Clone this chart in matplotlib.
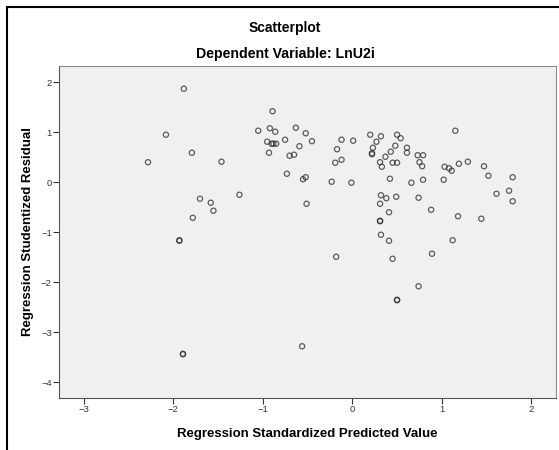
import matplotlib.pyplot as plt
from matplotlib.patches import Rectangle

plt.rcParams['font.family'] = ['Liberation Sans', 'DejaVu Sans']

# Standardized predicted values (x) and studentized residuals (y)
pred = [-1.88, -0.89, -2.08, -1.05, -0.92, -0.86, -0.63, -0.52, -1.79, -2.28,
        -1.46, -0.95, -0.90, -0.88, -0.85, -0.75, -0.59, -0.93, -0.70, -0.65,
        -0.73, -0.55, -0.52, -1.26, -1.70, -1.58, -1.55, -1.78, -1.93, -1.93,
        -0.51, -0.45, -0.12, 0.01, -0.17, -0.19, -0.12, -0.23, -0.01, -0.18,
        0.20, 0.32, 0.27, 0.23, 0.22, 0.22, 0.50, 0.54, 0.48, 0.43,
        0.37, 0.31, 0.33, 0.45, 0.50, 0.61, 0.61, 0.42, 0.66, 0.79,
        0.73, 0.79, 0.75, 0.78, 1.15, 1.03, 1.08, 1.11, 1.19, 1.29,
        1.02, 1.47, 1.52, 1.79, 1.75, 1.79, 1.61, 0.32, 0.38, 0.49,
        0.31, 0.74, 0.41, 0.31, 0.31, 0.88, 1.18, 1.44, 0.32, 0.41,
        1.12, 0.45, 0.89, 0.74, 0.50, 0.50, -1.89, -1.89, -0.56]
resid = [1.87, 1.42, 0.95, 1.03, 1.08, 1.01, 1.09, 0.98, 0.59, 0.40,
         0.41, 0.81, 0.77, 0.77, 0.77, 0.85, 0.72, 0.59, 0.53, 0.55,
         0.17, 0.06, 0.10, -0.25, -0.33, -0.41, -0.57, -0.71, -1.16, -1.17,
         -0.43, 0.82, 0.85, 0.83, 0.66, 0.39, 0.45, 0.01, -0.01, -1.49,
         0.95, 0.92, 0.81, 0.69, 0.58, 0.56, 0.95, 0.88, 0.73, 0.61,
         0.51, 0.40, 0.31, 0.39, 0.39, 0.69, 0.59, 0.07, -0.01, 0.05,
         0.54, 0.54, 0.40, 0.32, 1.03, 0.31, 0.28, 0.23, 0.37, 0.41,
         0.05, 0.32, 0.13, 0.10, -0.17, -0.38, -0.23, -0.26, -0.32, -0.29,
         -0.43, -0.31, -0.60, -0.77, -0.78, -0.55, -0.68, -0.73, -1.05, -1.17,
         -1.16, -1.53, -1.43, -2.08, -2.35, -2.36, -3.43, -3.44, -3.28]

x_ticks = [-3, -2, -1, 0, 1, 2]
y_ticks = [-4, -3, -2, -1, 0, 1, 2]

fig = plt.figure(figsize=(5.59, 4.5), dpi=100)
ax = fig.add_axes([0.105, 0.116, 0.8895, 0.738])
ax.set_facecolor('#f0f0f0')

ax.scatter(pred, resid, s=14, facecolors='none', edgecolors='#2a2a2a',
           linewidths=0.9, alpha=0.75)

ax.set_xlim(-3.277, 2.273)
ax.set_ylim(-4.31, 2.33)
ax.set_xticks(x_ticks)
ax.set_yticks(y_ticks)
ax.tick_params(labelsize=6.8, length=4, width=0.8, color='#333333',
               labelcolor='#333333', pad=1)

for side in ['top', 'right']:
    ax.spines[side].set_color('#8a8a8a')
for side in ['left', 'bottom']:
    ax.spines[side].set_color('#555555')

ax.set_xlabel('Regression Standardized Predicted Value', fontsize=9.5,
              fontweight='bold', labelpad=10)
ax.set_ylabel('Regression Studentized Residual', fontsize=9.5,
              fontweight='bold', labelpad=5)

fig.text(285 / 559, 1 - 28 / 450, 'Scatterplot', ha='center', va='center',
         fontsize=10, fontweight='bold')
fig.text(285 / 559, 1 - 54 / 450, 'Dependent Variable: LnU2i', ha='center',
         va='center', fontsize=10.2, fontweight='bold')

# outer frame (runs past the right and bottom edges)
fig.patches.append(Rectangle((7 / 559, -0.1), 1.2, 1 - 7 / 450 + 0.1,
                             transform=fig.transFigure, fill=False,
                             edgecolor='black', linewidth=1.5))

fig.savefig('out.png', dpi=100)
